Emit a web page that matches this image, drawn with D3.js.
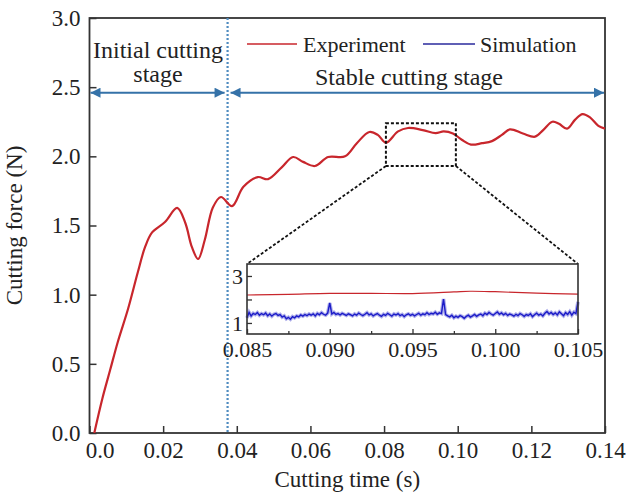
<!DOCTYPE html>
<html>
<head>
<meta charset="utf-8">
<title>Cutting force</title>
<script src="https://d3js.org/d3.v7.min.js"></script>
<style>
	body { margin: 0; background: #fff; }
	text { font-family: "Liberation Serif", "Times New Roman", serif; fill: #222; }
</style>
</head>
<body>
<script>
var w = 626, h = 498;

// main curve (experiment)
var expTime = [0.0013, 0.0035, 0.0056, 0.0077, 0.0105, 0.0131, 0.0151, 0.017, 0.0205, 0.0238, 0.026, 0.0278,
	0.0295, 0.0313, 0.0335, 0.0357, 0.0387, 0.0418, 0.0457, 0.0485, 0.0522, 0.0553, 0.058, 0.0612, 0.0648,
	0.0694, 0.0726, 0.0760, 0.0783, 0.0805, 0.0838, 0.0865, 0.0905, 0.0940, 0.0962, 0.0987, 0.1011, 0.1036,
	0.1066, 0.1093, 0.112, 0.1142, 0.1177, 0.121, 0.1232, 0.1257, 0.1275, 0.1297, 0.1319, 0.1339, 0.136,
	0.1382, 0.14];
var expForce = [0, 0.25, 0.455, 0.66, 0.90, 1.16, 1.345, 1.45, 1.525, 1.627, 1.52, 1.345,
	1.258, 1.395, 1.63, 1.706, 1.64, 1.78, 1.85, 1.835, 1.92, 1.995, 1.96, 1.93, 1.995,
	2.0, 2.095, 2.176, 2.155, 2.098, 2.18, 2.205, 2.19, 2.168, 2.18, 2.165, 2.12, 2.085,
	2.095, 2.11, 2.155, 2.195, 2.165, 2.142, 2.19, 2.25, 2.235, 2.2, 2.265, 2.305, 2.28,
	2.22, 2.2];

// inset: experiment (red) and simulation (blue), 0.085 - 0.105 s
var insetExpTime = [0.085, 0.0875, 0.09, 0.0925, 0.095, 0.0975, 0.0985, 0.1, 0.1025, 0.105];
var insetExpForce = [2.19, 2.22, 2.26, 2.26, 2.25, 2.32, 2.35, 2.33, 2.27, 2.23];
var simStart = 0.085, simStep = 0.000125;
var simForce = [1.22, 1.45, 1.30, 1.41, 1.36, 1.44, 1.33, 1.40, 1.35, 1.42, 1.31, 1.38, 1.29, 1.37, 1.40, 1.32,
	1.36, 1.25, 1.30, 1.18, 1.24, 1.16, 1.27, 1.22, 1.30, 1.26, 1.34, 1.29, 1.36, 1.31, 1.38, 1.33,
	1.39, 1.30, 1.41, 1.35, 1.44, 1.37, 1.33, 1.42, 1.85, 1.38, 1.45, 1.36, 1.40, 1.34, 1.41, 1.37,
	1.32, 1.39, 1.35, 1.30, 1.38, 1.33, 1.42, 1.36, 1.31, 1.37, 1.44, 1.34, 1.39, 1.30, 1.36, 1.40,
	1.33, 1.28, 1.37, 1.32, 1.41, 1.35, 1.29, 1.38, 1.34, 1.40, 1.31, 1.36, 1.27, 1.35, 1.39, 1.32,
	1.37, 1.30, 1.36, 1.41, 1.33, 1.39, 1.35, 1.44, 1.36, 1.41, 1.38, 1.46, 1.37, 1.43, 1.40, 2.02,
	1.36, 1.30, 1.26, 1.33, 1.22, 1.29, 1.24, 1.31, 1.27, 1.20, 1.28, 1.33, 1.25, 1.30, 1.36, 1.28,
	1.34, 1.38, 1.31, 1.42, 1.36, 1.45, 1.38, 1.33, 1.40, 1.47, 1.37, 1.43, 1.35, 1.41, 1.32, 1.38,
	1.34, 1.29, 1.37, 1.31, 1.40, 1.35, 1.28, 1.36, 1.32, 1.39, 1.27, 1.35, 1.42, 1.33, 1.38, 1.30,
	1.41, 1.49, 1.38, 1.45, 1.36, 1.43, 1.34, 1.47, 1.39, 1.31, 1.44, 1.36, 1.48, 1.33, 1.46, 1.40, 1.90];

var xTicks = [0, 0.02, 0.04, 0.06, 0.08, 0.10, 0.12, 0.14];
var yTicks = [0, 0.5, 1.0, 1.5, 2.0, 2.5, 3.0];
var insetXTicks = [0.085, 0.090, 0.095, 0.100, 0.105];
var insetXMinor = [0.0875, 0.0925, 0.0975, 0.1025];
var insetYTicks = [1, 2, 3];

var stageSplit = 0.0375;   // boundary between the two stages
var arrowLevel = 2.46;
var zoomBox = {t0: 0.0805, t1: 0.0995, f0: 1.93, f1: 2.24};

var red = "#c8262c", blue = "#1c1cc8", steel = "#3572a8";

var svg = d3.select("body").append("svg").attr("width", w).attr("height", h);

var pL = 89.5, pR = 605, pT = 18, pB = 433;
var x = d3.scaleLinear().domain([0, 0.14]).range([pL, pR]);
var y = d3.scaleLinear().domain([0, 3]).range([pB, pT]);

var defs = svg.append("defs");
["arrowEnd", "arrowStart"].forEach(function(id, i) {
	defs.append("marker").attr("id", id)
		.attr("viewBox", "0 0 10 10").attr("refX", 10).attr("refY", 5)
		.attr("markerWidth", 14).attr("markerHeight", 10)
		.attr("markerUnits", "userSpaceOnUse")
		.attr("orient", i == 0 ? "auto" : "auto-start-reverse")
		.append("path").attr("d", "M0,0 L10,5 L0,10 Z").attr("fill", steel);
});

// axes with inward ticks
var xAxis = svg.append("g").attr("transform", "translate(0," + pB + ")")
	.call(d3.axisBottom(x).tickValues(xTicks).tickSizeInner(-7).tickSizeOuter(0).tickPadding(9)
		.tickFormat(function(d) { return d == 0 ? "0.0" : d3.format(".2f")(d); }));
xAxis.selectAll("text").attr("font-size", 23).attr("dx", function(d) { return d == 0 ? 10 : 0; });

var yAxis = svg.append("g").attr("transform", "translate(" + pL + ",0)")
	.call(d3.axisLeft(y).tickValues(yTicks).tickSizeInner(-7).tickSizeOuter(0).tickPadding(9)
		.tickFormat(d3.format(".1f")));
yAxis.selectAll("text").attr("font-size", 23);
svg.selectAll(".domain").remove();
svg.selectAll(".tick line").attr("stroke", "#333").attr("stroke-width", 1.5);

svg.append("rect").attr("x", pL).attr("y", pT).attr("width", pR - pL).attr("height", pB - pT)
	.attr("fill", "none").attr("stroke", "#333").attr("stroke-width", 1.8);

svg.append("text").attr("x", (pL + pR) / 2).attr("y", 487).attr("text-anchor", "middle")
	.attr("font-size", 23).text("Cutting time (s)");
svg.append("text").attr("transform", "translate(22," + (pT + pB) / 2 + ") rotate(-90)")
	.attr("text-anchor", "middle").attr("font-size", 23).text("Cutting force (N)");

// stage divider and arrows
svg.append("line").attr("x1", x(stageSplit)).attr("x2", x(stageSplit)).attr("y1", pT).attr("y2", pB)
	.attr("stroke", "#4f8cc0").attr("stroke-width", 2.2).attr("stroke-dasharray", "2,2");
svg.append("line").attr("x1", x(0) + 1).attr("x2", x(stageSplit) - 3)
	.attr("y1", y(arrowLevel)).attr("y2", y(arrowLevel))
	.attr("stroke", steel).attr("stroke-width", 2)
	.attr("marker-start", "url(#arrowStart)").attr("marker-end", "url(#arrowEnd)");
svg.append("line").attr("x1", x(stageSplit) + 3).attr("x2", x(0.14) - 1)
	.attr("y1", y(arrowLevel)).attr("y2", y(arrowLevel))
	.attr("stroke", steel).attr("stroke-width", 2)
	.attr("marker-start", "url(#arrowStart)").attr("marker-end", "url(#arrowEnd)");
svg.append("text").attr("x", 158).attr("y", 58).attr("text-anchor", "middle").attr("font-size", 24).text("Initial cutting");
svg.append("text").attr("x", 158).attr("y", 82).attr("text-anchor", "middle").attr("font-size", 24).text("stage");
svg.append("text").attr("x", 409).attr("y", 85).attr("text-anchor", "middle").attr("font-size", 24).text("Stable cutting stage");

// legend
svg.append("line").attr("x1", 247).attr("x2", 297).attr("y1", 44).attr("y2", 44).attr("stroke", red).attr("stroke-width", 1.5);
svg.append("text").attr("x", 303).attr("y", 52).attr("font-size", 22).text("Experiment");
svg.append("line").attr("x1", 423).attr("x2", 475).attr("y1", 44).attr("y2", 44).attr("stroke", "#2a2a9c").attr("stroke-width", 1.5);
svg.append("text").attr("x", 480).attr("y", 52).attr("font-size", 22).text("Simulation");

// experiment curve
var line = d3.line().curve(d3.curveCatmullRom)
	.x(function(d, i) { return x(expTime[i]); })
	.y(function(d) { return y(d); });
svg.append("path").datum(expForce).attr("d", line)
	.attr("fill", "none").attr("stroke", red).attr("stroke-width", 2.2);

// inset
var iL = 247, iR = 578, iT = 264, iB = 334;
var ix = d3.scaleLinear().domain([0.085, 0.105]).range([iL, iR]);
var iy = d3.scaleLinear().domain([0.53, 3.51]).range([iB, iT]);

// zoom box and connectors
svg.append("rect").attr("x", x(zoomBox.t0)).attr("y", y(zoomBox.f1))
	.attr("width", x(zoomBox.t1) - x(zoomBox.t0)).attr("height", y(zoomBox.f0) - y(zoomBox.f1))
	.attr("fill", "none").attr("stroke", "#111").attr("stroke-width", 2).attr("stroke-dasharray", "3,2");
svg.append("line").attr("x1", x(zoomBox.t0)).attr("y1", y(zoomBox.f0)).attr("x2", iL).attr("y2", iT)
	.attr("stroke", "#111").attr("stroke-width", 1.8).attr("stroke-dasharray", "3,2");
svg.append("line").attr("x1", x(zoomBox.t1)).attr("y1", y(zoomBox.f0)).attr("x2", iR).attr("y2", iT)
	.attr("stroke", "#111").attr("stroke-width", 1.8).attr("stroke-dasharray", "3,2");

var inset = svg.append("g");
inset.append("rect").attr("x", iL).attr("y", iT).attr("width", iR - iL).attr("height", iB - iT)
	.attr("fill", "#fff");

var simLine = d3.line()
	.x(function(d, i) { return ix(simStart + i * simStep); })
	.y(function(d) { return iy(d); });
inset.append("path").datum(simForce).attr("d", simLine)
	.attr("fill", "none").attr("stroke", "#6b6bd8").attr("stroke-width", 3.6).attr("opacity", 0.55);
inset.append("path").datum(simForce).attr("d", simLine)
	.attr("fill", "none").attr("stroke", blue).attr("stroke-width", 1.4);

var insetLine = d3.line().curve(d3.curveCatmullRom)
	.x(function(d, i) { return ix(insetExpTime[i]); })
	.y(function(d) { return iy(d); });
inset.append("path").datum(insetExpForce).attr("d", insetLine)
	.attr("fill", "none").attr("stroke", red).attr("stroke-width", 1.2);

var ixAxis = inset.append("g").attr("transform", "translate(0," + iB + ")")
	.call(d3.axisBottom(ix).tickValues(insetXTicks).tickSizeInner(-5).tickSizeOuter(0).tickPadding(7)
		.tickFormat(d3.format(".3f")));
ixAxis.selectAll("text").attr("font-size", 22);
inset.append("g").attr("transform", "translate(0," + iB + ")")
	.call(d3.axisBottom(ix).tickValues(insetXMinor).tickSizeInner(-3).tickSizeOuter(0).tickFormat(""));
var iyAxis = inset.append("g").attr("transform", "translate(" + iL + ",0)")
	.call(d3.axisLeft(iy).tickValues(insetYTicks).tickSizeInner(-5).tickSizeOuter(0).tickPadding(4)
		.tickFormat(function(d) { return d == 2 ? "" : d; }));
iyAxis.selectAll("text").attr("font-size", 22);
inset.selectAll(".domain").remove();
inset.selectAll(".tick line").attr("stroke", "#333").attr("stroke-width", 1.3);
inset.append("rect").attr("x", iL).attr("y", iT).attr("width", iR - iL).attr("height", iB - iT)
	.attr("fill", "none").attr("stroke", "#333").attr("stroke-width", 1.6);
</script>
</body>
</html>
